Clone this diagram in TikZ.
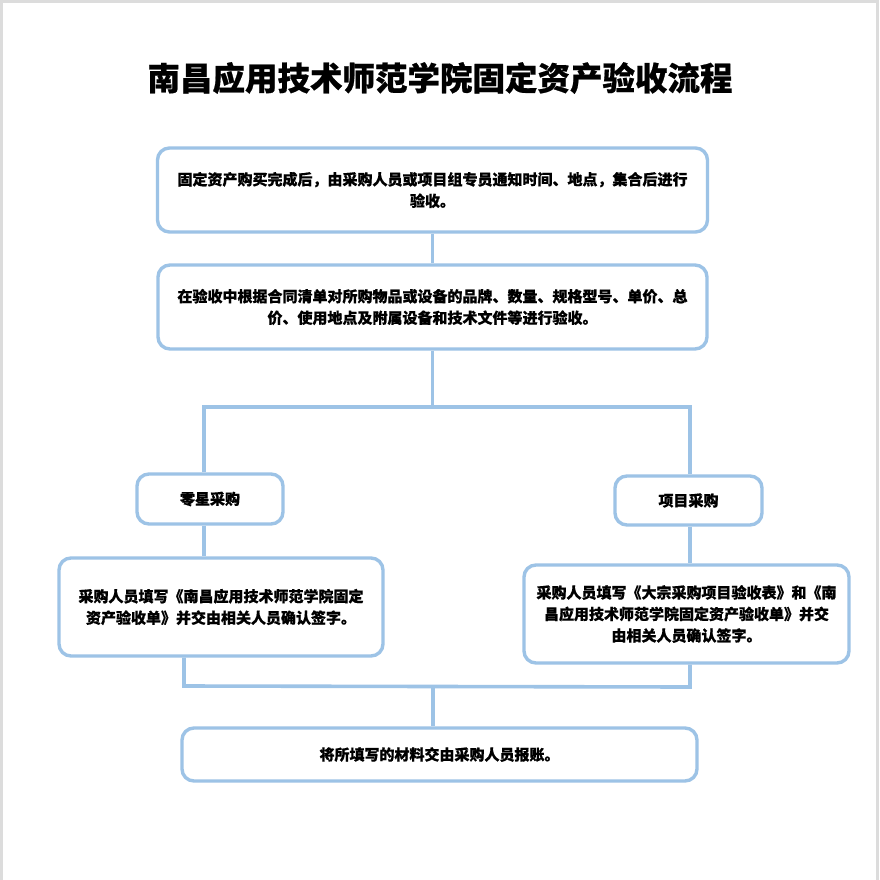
\documentclass[tikz,border=0pt]{standalone}
\usepackage{fontspec}
\setmainfont{Noto Sans CJK SC}[BoldFeatures={FakeBold=0.6}]
\definecolor{lineblue}{HTML}{9DC3E6}
\definecolor{edgegray}{HTML}{DCDCDC}
\begin{document}
\begin{tikzpicture}[x=1pt,y=-1pt,
  box/.style={draw=lineblue,line width=3.4pt,rounded corners=12pt,fill=white,
    align=center,inner sep=0pt,font=\fontsize{15}{21.5}\selectfont\bfseries},
  conn/.style={draw=lineblue,line width=3.6pt,line join=miter}]
\fill[edgegray] (0,0) rectangle (879,880);
\fill[white] (3,3) rectangle (876,880);
\useasboundingbox (0,0) rectangle (879,880);
\node[font=\fontsize{32.5}{36}\selectfont\bfseries] (title) at (440,78) {南昌应用技术师范学院固定资产验收流程};
\node[box,minimum width=550pt,minimum height=84pt] (b1) at (432.5,190)
  {固定资产购买完成后，由采购人员或项目组专员通知时间、地点，集合后进行\\验收。};
\node[box,minimum width=549pt,minimum height=84pt] (b2) at (432.5,307)
  {在验收中根据合同清单对所购物品或设备的品牌、数量、规格型号、单价、总\\价、使用地点及附属设备和技术文件等进行验收。};
\node[box,minimum width=146pt,minimum height=50pt] (ls) at (210,499) {零星采购};
\node[box,minimum width=147pt,minimum height=49pt] (ps) at (688.5,500.5) {项目采购};
\node[box,minimum width=324pt,minimum height=98pt] (lb) at (221,607)
  {采购人员填写《南昌应用技术师范学院固定\\资产验收单》并交由相关人员确认签字。};
\node[box,minimum width=325pt,minimum height=98pt] (rb) at (686.5,614)
  {采购人员填写《大宗采购项目验收表》和《南\\昌应用技术师范学院固定资产验收单》并交\\由相关人员确认签字。};
\node[box,minimum width=515pt,minimum height=53pt] (fb) at (439.5,754.5)
  {将所填写的材料交由采购人员报账。};
\coordinate (t0) at (432.5,407);
\coordinate (tl) at (204,407);
\coordinate (tr) at (690,407);
\coordinate (bl) at (184,686);
\coordinate (br) at (690,687);
\coordinate (bm) at (433,686.5);
\draw[conn] (b1.south) -- (b2.north);
\draw[conn] (b2.south) -- (t0);
\draw[conn] (tl |- ls.north) -- (tl) -- (tr) -- (tr |- ps.north);
\draw[conn] (tl |- ls.south) -- (tl |- lb.north);
\draw[conn] (tr |- ps.south) -- (tr |- rb.north);
\draw[conn] (bl |- lb.south) -- (bl) -- (br) -- (br |- rb.south);
\draw[conn] (bm) -- (bm |- fb.north);
\end{tikzpicture}
\end{document}
